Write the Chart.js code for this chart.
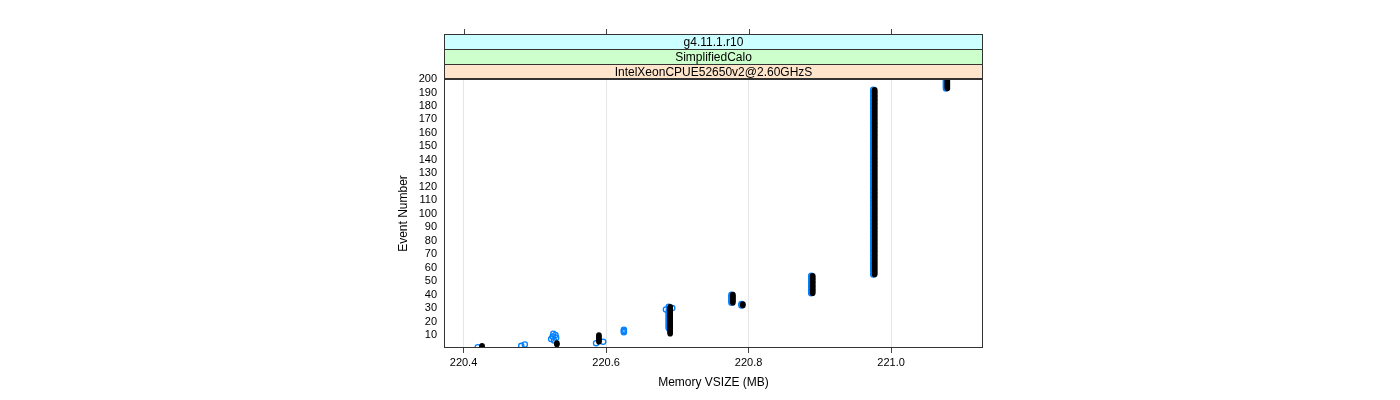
<!DOCTYPE html>
<html>
<head>
  <script src="https://cdn.jsdelivr.net/npm/chart.js"></script>
  <style>
    body { margin: 0; background: #fff; }
  </style>
</head>
<body>
  <canvas id="vsizeChart" width="1400" height="400"></canvas>
<script>
  // Event numbers (y) shared by both runs
  var events = [
    1, 2, 3, 4, 5, 6, 7, 8, 9, 10, 11, 12, 13, 14, 15, 16, 17, 18, 19, 20,
    21, 22, 23, 24, 25, 26, 27, 28, 29, 30, 31, 32, 33, 34, 35, 36, 37, 38, 39, 40,
    41, 42, 43, 44, 45, 46, 47, 48, 49, 50, 51, 52, 53, 54, 55, 56, 57, 58, 59, 60,
    61, 62, 63, 64, 65, 66, 67, 68, 69, 70, 71, 72, 73, 74, 75, 76, 77, 78, 79, 80,
    81, 82, 83, 84, 85, 86, 87, 88, 89, 90, 91, 92, 93, 94, 95, 96, 97, 98, 99, 100,
    101, 102, 103, 104, 105, 106, 107, 108, 109, 110, 111, 112, 113, 114, 115, 116, 117, 118, 119, 120,
    121, 122, 123, 124, 125, 126, 127, 128, 129, 130, 131, 132, 133, 134, 135, 136, 137, 138, 139, 140,
    141, 142, 143, 144, 145, 146, 147, 148, 149, 150, 151, 152, 153, 154, 155, 156, 157, 158, 159, 160,
    161, 162, 163, 164, 165, 166, 167, 168, 169, 170, 171, 172, 173, 174, 175, 176, 177, 178, 179, 180,
    181, 182, 183, 184, 185, 186, 187, 188, 189, 190, 191, 192, 193, 194, 195, 196, 197, 198, 199, 200
  ];

  // Memory VSIZE (MB) per event, black run
  var vsizeBlack = [
    220.426, 220.426, 220.531, 220.531, 220.590, 220.590, 220.590, 220.590, 220.590, 220.590,
    220.690, 220.690, 220.690, 220.690, 220.690, 220.690, 220.690, 220.690, 220.690, 220.690,
    220.690, 220.690, 220.690, 220.690, 220.690, 220.690, 220.690, 220.690, 220.690, 220.690,
    220.690, 220.792, 220.792, 220.778, 220.778, 220.778, 220.778, 220.778, 220.778, 220.778,
    220.890, 220.890, 220.890, 220.890, 220.890, 220.890, 220.890, 220.890, 220.890, 220.890,
    220.890, 220.890, 220.890, 220.890, 220.977, 220.977, 220.977, 220.977, 220.977, 220.977,
    220.977, 220.977, 220.977, 220.977, 220.977, 220.977, 220.977, 220.977, 220.977, 220.977,
    220.977, 220.977, 220.977, 220.977, 220.977, 220.977, 220.977, 220.977, 220.977, 220.977,
    220.977, 220.977, 220.977, 220.977, 220.977, 220.977, 220.977, 220.977, 220.977, 220.977,
    220.977, 220.977, 220.977, 220.977, 220.977, 220.977, 220.977, 220.977, 220.977, 220.977,
    220.977, 220.977, 220.977, 220.977, 220.977, 220.977, 220.977, 220.977, 220.977, 220.977,
    220.977, 220.977, 220.977, 220.977, 220.977, 220.977, 220.977, 220.977, 220.977, 220.977,
    220.977, 220.977, 220.977, 220.977, 220.977, 220.977, 220.977, 220.977, 220.977, 220.977,
    220.977, 220.977, 220.977, 220.977, 220.977, 220.977, 220.977, 220.977, 220.977, 220.977,
    220.977, 220.977, 220.977, 220.977, 220.977, 220.977, 220.977, 220.977, 220.977, 220.977,
    220.977, 220.977, 220.977, 220.977, 220.977, 220.977, 220.977, 220.977, 220.977, 220.977,
    220.977, 220.977, 220.977, 220.977, 220.977, 220.977, 220.977, 220.977, 220.977, 220.977,
    220.977, 220.977, 220.977, 220.977, 220.977, 220.977, 220.977, 220.977, 220.977, 220.977,
    220.977, 220.977, 220.977, 220.977, 220.977, 220.977, 220.977, 220.977, 220.977, 220.977,
    220.977, 220.977, 221.079, 221.079, 221.079, 221.079, 221.079, 221.079, 221.079, 221.079
  ];

  // Memory VSIZE (MB) per event, blue run
  var vsizeBlue = [
    220.420, 220.481, 220.486, 220.586, 220.596, 220.527, 220.523, 220.530, 220.525, 220.529,
    220.526, 220.625, 220.625, 220.625, 220.688, 220.688, 220.688, 220.688, 220.688, 220.688,
    220.688, 220.688, 220.688, 220.688, 220.688, 220.688, 220.688, 220.688, 220.684, 220.693,
    220.688, 220.790, 220.790, 220.776, 220.776, 220.776, 220.776, 220.776, 220.776, 220.776,
    220.888, 220.888, 220.888, 220.888, 220.888, 220.888, 220.888, 220.888, 220.888, 220.888,
    220.888, 220.888, 220.888, 220.888, 220.975, 220.975, 220.975, 220.975, 220.975, 220.975,
    220.975, 220.975, 220.975, 220.975, 220.975, 220.975, 220.975, 220.975, 220.975, 220.975,
    220.975, 220.975, 220.975, 220.975, 220.975, 220.975, 220.975, 220.975, 220.975, 220.975,
    220.975, 220.975, 220.975, 220.975, 220.975, 220.975, 220.975, 220.975, 220.975, 220.975,
    220.975, 220.975, 220.975, 220.975, 220.975, 220.975, 220.975, 220.975, 220.975, 220.975,
    220.975, 220.975, 220.975, 220.975, 220.975, 220.975, 220.975, 220.975, 220.975, 220.975,
    220.975, 220.975, 220.975, 220.975, 220.975, 220.975, 220.975, 220.975, 220.975, 220.975,
    220.975, 220.975, 220.975, 220.975, 220.975, 220.975, 220.975, 220.975, 220.975, 220.975,
    220.975, 220.975, 220.975, 220.975, 220.975, 220.975, 220.975, 220.975, 220.975, 220.975,
    220.975, 220.975, 220.975, 220.975, 220.975, 220.975, 220.975, 220.975, 220.975, 220.975,
    220.975, 220.975, 220.975, 220.975, 220.975, 220.975, 220.975, 220.975, 220.975, 220.975,
    220.975, 220.975, 220.975, 220.975, 220.975, 220.975, 220.975, 220.975, 220.975, 220.975,
    220.975, 220.975, 220.975, 220.975, 220.975, 220.975, 220.975, 220.975, 220.975, 220.975,
    220.975, 220.975, 220.975, 220.975, 220.975, 220.975, 220.975, 220.975, 220.975, 220.975,
    220.975, 220.975, 221.077, 221.077, 221.077, 221.077, 221.077, 221.077, 221.077, 221.077
  ];

  // Axis ticks and panel strip labels
  var xTickValues = [220.4, 220.6, 220.8, 221.0];
  var yTickValues = [10, 20, 30, 40, 50, 60, 70, 80, 90, 100, 110, 120, 130, 140, 150, 160, 170, 180, 190, 200];
  var stripLabels = ['g4.11.1.r10', 'SimplifiedCalo', 'IntelXeonCPUE52650v2@2.60GHzS'];

  var fontFamily = "'Liberation Sans', Arial, Helvetica, sans-serif";
  var stripColors = ['#ccffff', '#ccffcc', '#ffe5cc'];
  var stripHeight = 15;

  function toPoints(mem) {
      return events.map(function (e, i) { return { x: mem[i], y: e }; });
  }

  // Draws the lattice-style strips, panel frame and top tick marks
  var panelPlugin = {
      id: 'panel',
      afterDraw: function (chart) {
          var ctx = chart.ctx;
          var area = chart.chartArea;
          var xs = chart.scales.x;
          var w = area.right - area.left;
          ctx.save();
          ctx.lineWidth = 1;
          ctx.strokeStyle = '#333';
          for (var i = 0; i < stripLabels.length; i++) {
              var top = area.top - stripHeight * (stripLabels.length - i);
              ctx.fillStyle = stripColors[i];
              ctx.fillRect(area.left, top, w, stripHeight);
              ctx.strokeRect(area.left + 0.5, top + 0.5, w - 1, stripHeight);
              ctx.fillStyle = '#000';
              ctx.font = '12px ' + fontFamily;
              ctx.textAlign = 'center';
              ctx.textBaseline = 'middle';
              ctx.fillText(stripLabels[i], area.left + w / 2, top + stripHeight / 2 + 1);
          }
          // panel frame
          ctx.strokeRect(area.left + 0.5, area.top - 0.5, w - 1, area.bottom - area.top);
          // tick marks on the top edge, above the strips
          var stripTop = area.top - stripHeight * stripLabels.length;
          ctx.strokeStyle = '#444';
          xTickValues.forEach(function (v) {
              var px = Math.round(xs.getPixelForValue(v)) + 0.5;
              ctx.beginPath();
              ctx.moveTo(px, stripTop - 5);
              ctx.lineTo(px, stripTop);
              ctx.stroke();
          });
          ctx.restore();
      }
  };

  var ctx = document.getElementById('vsizeChart').getContext('2d');

  var vsizeChart = new Chart(ctx, {
      type: 'scatter',
      data: {
          datasets: [
              {
                  label: 'run A',
                  data: toPoints(vsizeBlack),
                  pointStyle: 'circle',
                  pointRadius: 2.8,
                  pointBackgroundColor: '#000',
                  pointBorderColor: '#000',
                  pointBorderWidth: 0,
              },
              {
                  label: 'run B',
                  data: toPoints(vsizeBlue),
                  pointStyle: 'circle',
                  pointRadius: 2.6,
                  pointBackgroundColor: 'rgba(0,0,0,0)',
                  pointBorderColor: '#0080ff',
                  pointBorderWidth: 1.3,
              },
          ],
      },
      options: {
          responsive: false,
          animation: false,
          events: [],
          layout: {
              padding: { left: 390, right: 417, top: 79, bottom: 0 },
          },
          scales: {
              x: {
                  type: 'linear',
                  min: 220.3726,
                  max: 221.129,
                  afterBuildTicks: function (scale) {
                      scale.ticks = xTickValues.map(function (v) { return { value: v }; });
                  },
                  afterFit: function (scale) { scale.height = 52; },
                  ticks: {
                      color: '#000',
                      font: { family: fontFamily, size: 11 },
                      padding: 3,
                      maxRotation: 0,
                      autoSkip: false,
                      callback: function (v) { return v.toFixed(1); },
                  },
                  grid: {
                      color: '#e6e6e6',
                      tickColor: '#444',
                      tickLength: 5,
                  },
                  border: { display: false },
                  title: {
                      display: true,
                      text: 'Memory VSIZE (MB)',
                      color: '#000',
                      font: { family: fontFamily, size: 12 },
                      padding: { top: 0, bottom: 10 },
                  },
              },
              y: {
                  type: 'linear',
                  min: 0.4,
                  max: 200,
                  afterBuildTicks: function (scale) {
                      scale.ticks = yTickValues.map(function (v) { return { value: v }; });
                  },
                  afterFit: function (scale) { scale.width = 54; },
                  ticks: {
                      color: '#000',
                      font: { family: fontFamily, size: 11 },
                      padding: 7,
                      autoSkip: false,
                  },
                  grid: { display: false, drawTicks: false, tickLength: 0 },
                  border: { display: false },
                  title: {
                      display: true,
                      text: 'Event Number',
                      color: '#000',
                      font: { family: fontFamily, size: 12 },
                      padding: { top: 6, bottom: 0 },
                  },
              },
          },
          plugins: {
              legend: { display: false },
              tooltip: { enabled: false },
          },
      },
      plugins: [panelPlugin],
  });
</script>
</body>
</html>
